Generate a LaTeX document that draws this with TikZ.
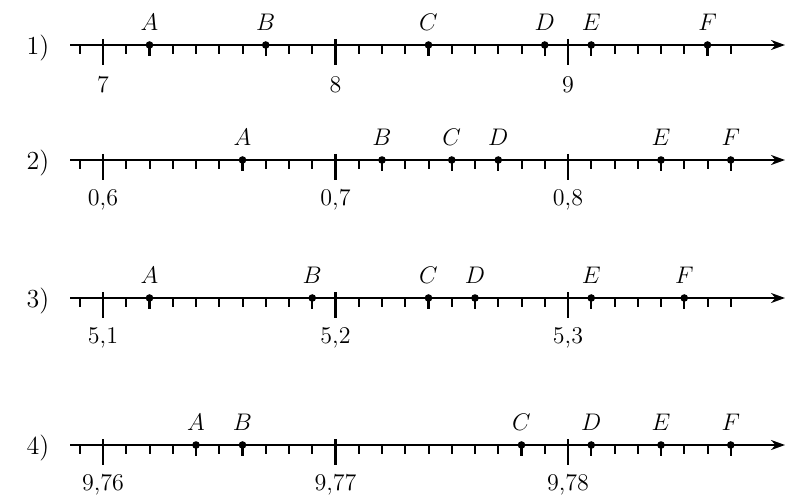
\documentclass[tikz,border=0pt]{standalone}
\usetikzlibrary{arrows.meta}
\tikzset{
  axisline/.style={line width=1.3pt, -{Stealth[length=7pt, width=5pt]}},
  minortick/.style={line width=1pt},
  majortick/.style={line width=1.1pt},
  pt/.style={circle, fill=black, inner sep=0pt, minimum size=3.8pt},
  ptname/.style={font=\fontsize{12}{14}\selectfont, inner sep=1pt},
  numname/.style={font=\fontsize{12}{14}\selectfont, inner sep=1pt},
  rowname/.style={font=\fontsize{13}{15}\selectfont, inner sep=1pt}
}
\begin{document}
\begin{tikzpicture}[x=0.5pt, y=-0.5pt]
\useasboundingbox (0,0) rectangle (785,497);
% the four axes with their ticks
\foreach \row/\yy/\ma/\mb/\mc in {1/45/7/8/9, 2/160/{0,6}/{0,7}/{0,8}, 3/298/{5,1}/{5,2}/{5,3}, 4/445/{9,76}/{9,77}/{9,78}} {
  \node[rowname] (row\row) at (38,\yy+3) {\row)};
  \coordinate (start\row) at (70,\yy);
  \coordinate (end\row) at (785,\yy);
  \draw[axisline] (start\row) -- (end\row);
  \foreach \k in {-1,...,27}
    \draw[minortick] (103+23.25*\k,\yy) -- ++(0,9);
  \foreach \k/\lab in {0/\ma, 10/\mb, 20/\mc} {
    \draw[majortick] (103+23.25*\k,\yy-6) -- ++(0,26);
    \node[numname] at (103+23.25*\k,\yy+40) {\lab};
  }
}
% row 1
\node[pt] (A1) at (103+23.25*2,45) {};
\node[pt] (B1) at (103+23.25*7,45) {};
\node[pt] (C1) at (103+23.25*14,45) {};
\node[pt] (D1) at (103+23.25*19,45) {};
\node[pt] (E1) at (103+23.25*21,45) {};
\node[pt] (F1) at (103+23.25*26,45) {};
% row 2
\node[pt] (A2) at (103+23.25*6,160) {};
\node[pt] (B2) at (103+23.25*12,160) {};
\node[pt] (C2) at (103+23.25*15,160) {};
\node[pt] (D2) at (103+23.25*17,160) {};
\node[pt] (E2) at (103+23.25*24,160) {};
\node[pt] (F2) at (103+23.25*27,160) {};
% row 3
\node[pt] (A3) at (103+23.25*2,298) {};
\node[pt] (B3) at (103+23.25*9,298) {};
\node[pt] (C3) at (103+23.25*14,298) {};
\node[pt] (D3) at (103+23.25*16,298) {};
\node[pt] (E3) at (103+23.25*21,298) {};
\node[pt] (F3) at (103+23.25*25,298) {};
% row 4
\node[pt] (A4) at (103+23.25*4,445) {};
\node[pt] (B4) at (103+23.25*6,445) {};
\node[pt] (C4) at (103+23.25*18,445) {};
\node[pt] (D4) at (103+23.25*21,445) {};
\node[pt] (E4) at (103+23.25*24,445) {};
\node[pt] (F4) at (103+23.25*27,445) {};
% the letters above the points
\foreach \row in {1,2,3,4}
  \foreach \p in {A,B,C,D,E,F}
    \node[ptname] at ([yshift=11.5pt]\p\row) {$\p$};
% the dots and tick marks of the points
\foreach \row in {1,...,4}
  \foreach \p in {A,B,C,D,E,F}
    \draw[majortick] (\p\row.center) -- ++(0,11);
\end{tikzpicture}
\end{document}
